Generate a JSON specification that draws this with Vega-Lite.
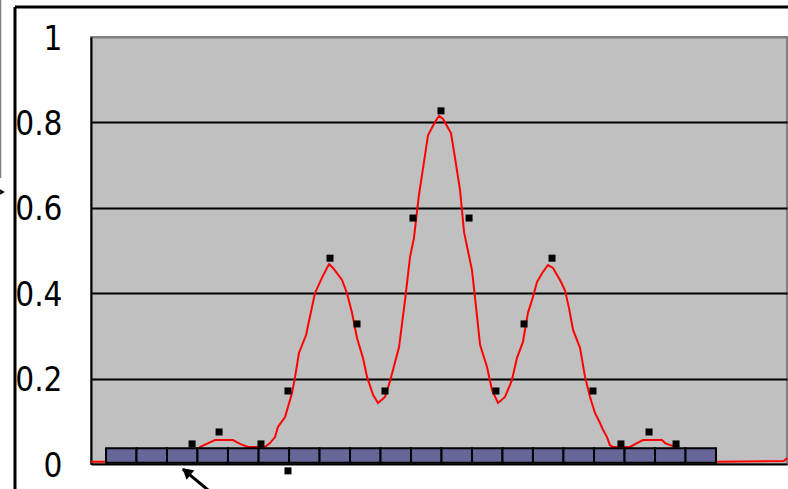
{
  "$schema": "https://vega.github.io/schema/vega-lite/v6.json",
  "width": 696,
  "height": 427,
  "autosize": {"type": "none"},
  "padding": {"left": 91, "top": 37, "right": 1, "bottom": 25},
  "background": "white",
  "config": {
    "view": {"fill": "#C0C0C0", "stroke": "#808080", "strokeWidth": 2}
  },
  "datasets": {
    "curve": [
      {"u": 0, "v": 0.005}, {"u": 4.24, "v": 0.005}, {"u": 7.47, "v": 0.007}, {"u": 7.83, "v": 0.04},
      {"u": 8.91, "v": 0.056}, {"u": 10.2, "v": 0.056}, {"u": 10.7, "v": 0.047}, {"u": 11.28, "v": 0.04},
      {"u": 12.5, "v": 0.04}, {"u": 12.86, "v": 0.049}, {"u": 13.22, "v": 0.063}, {"u": 13.43, "v": 0.087},
      {"u": 13.94, "v": 0.11}, {"u": 14.44, "v": 0.166}, {"u": 14.66, "v": 0.204}, {"u": 14.94, "v": 0.26},
      {"u": 15.45, "v": 0.302}, {"u": 15.8, "v": 0.356}, {"u": 16.09, "v": 0.4}, {"u": 16.59, "v": 0.436},
      {"u": 16.95, "v": 0.459}, {"u": 17.1, "v": 0.468}, {"u": 17.39, "v": 0.459}, {"u": 18.03, "v": 0.431},
      {"u": 18.39, "v": 0.4}, {"u": 18.75, "v": 0.354}, {"u": 19.11, "v": 0.295}, {"u": 19.54, "v": 0.248},
      {"u": 19.83, "v": 0.204}, {"u": 20.26, "v": 0.162}, {"u": 20.62, "v": 0.143}, {"u": 21.12, "v": 0.157},
      {"u": 21.48, "v": 0.194}, {"u": 22.13, "v": 0.274}, {"u": 22.56, "v": 0.384}, {"u": 22.92, "v": 0.485},
      {"u": 23.2, "v": 0.529}, {"u": 23.56, "v": 0.63}, {"u": 23.92, "v": 0.707}, {"u": 24.21, "v": 0.77},
      {"u": 24.71, "v": 0.801}, {"u": 25.0, "v": 0.815}, {"u": 25.29, "v": 0.808}, {"u": 25.86, "v": 0.775},
      {"u": 26.15, "v": 0.717}, {"u": 26.51, "v": 0.642}, {"u": 26.8, "v": 0.543}, {"u": 27.37, "v": 0.454},
      {"u": 27.66, "v": 0.368}, {"u": 27.95, "v": 0.279}, {"u": 28.45, "v": 0.227}, {"u": 28.81, "v": 0.173},
      {"u": 29.24, "v": 0.143}, {"u": 29.74, "v": 0.157}, {"u": 30.1, "v": 0.185}, {"u": 30.24, "v": 0.197},
      {"u": 30.6, "v": 0.248}, {"u": 31.03, "v": 0.286}, {"u": 31.39, "v": 0.354}, {"u": 31.75, "v": 0.391},
      {"u": 32.04, "v": 0.426}, {"u": 32.47, "v": 0.45}, {"u": 32.83, "v": 0.466}, {"u": 33.19, "v": 0.459},
      {"u": 33.69, "v": 0.431}, {"u": 34.05, "v": 0.407}, {"u": 34.34, "v": 0.365}, {"u": 34.63, "v": 0.314},
      {"u": 35.13, "v": 0.272}, {"u": 35.49, "v": 0.204}, {"u": 35.85, "v": 0.157}, {"u": 36.21, "v": 0.119},
      {"u": 36.57, "v": 0.096}, {"u": 36.78, "v": 0.08}, {"u": 37.07, "v": 0.063}, {"u": 37.28, "v": 0.044},
      {"u": 37.5, "v": 0.04}, {"u": 38.72, "v": 0.04}, {"u": 39.22, "v": 0.049}, {"u": 39.66, "v": 0.056},
      {"u": 41.02, "v": 0.056}, {"u": 41.24, "v": 0.049}, {"u": 41.81, "v": 0.042}, {"u": 42.31, "v": 0.035},
      {"u": 43.03, "v": 0.007}, {"u": 44.9, "v": 0.005}, {"u": 49.78, "v": 0.007}, {"u": 50.0, "v": 0.014}
    ],
    "pts": [
      {"u": 7.26, "v": 0.047}, {"u": 9.2, "v": 0.075}, {"u": 12.21, "v": 0.047}, {"u": 14.15, "v": 0.171},
      {"u": 14.15, "v": -0.016}, {"u": 17.17, "v": 0.482}, {"u": 19.11, "v": 0.328}, {"u": 21.12, "v": 0.171},
      {"u": 23.13, "v": 0.576}, {"u": 25.14, "v": 0.827}, {"u": 27.16, "v": 0.576}, {"u": 29.09, "v": 0.171},
      {"u": 31.11, "v": 0.328}, {"u": 33.12, "v": 0.482}, {"u": 36.06, "v": 0.171}, {"u": 38.07, "v": 0.047},
      {"u": 40.09, "v": 0.075}, {"u": 42.03, "v": 0.047}
    ],
    "boxes": [
      {"u": 1.08, "u2": 3.27, "v": 0.003, "v2": 0.037}, {"u": 3.27, "u2": 5.46, "v": 0.003, "v2": 0.037},
      {"u": 5.46, "u2": 7.65, "v": 0.003, "v2": 0.037}, {"u": 7.65, "u2": 9.84, "v": 0.003, "v2": 0.037},
      {"u": 9.84, "u2": 12.04, "v": 0.003, "v2": 0.037}, {"u": 12.04, "u2": 14.23, "v": 0.003, "v2": 0.037},
      {"u": 14.23, "u2": 16.42, "v": 0.003, "v2": 0.037}, {"u": 16.42, "u2": 18.61, "v": 0.003, "v2": 0.037},
      {"u": 18.61, "u2": 20.8, "v": 0.003, "v2": 0.037}, {"u": 20.8, "u2": 22.99, "v": 0.003, "v2": 0.037},
      {"u": 22.99, "u2": 25.18, "v": 0.003, "v2": 0.037}, {"u": 25.18, "u2": 27.37, "v": 0.003, "v2": 0.037},
      {"u": 27.37, "u2": 29.56, "v": 0.003, "v2": 0.037}, {"u": 29.56, "u2": 31.75, "v": 0.003, "v2": 0.037},
      {"u": 31.75, "u2": 33.94, "v": 0.003, "v2": 0.037}, {"u": 33.94, "u2": 36.14, "v": 0.003, "v2": 0.037},
      {"u": 36.14, "u2": 38.33, "v": 0.003, "v2": 0.037}, {"u": 38.33, "u2": 40.52, "v": 0.003, "v2": 0.037},
      {"u": 40.52, "u2": 42.71, "v": 0.003, "v2": 0.037}, {"u": 42.71, "u2": 44.9, "v": 0.003, "v2": 0.037}
    ],
    "frame": [
      {"u": -5.46, "u2": -5.46, "v": 1.07, "v2": -0.07},
      {"u": -5.46, "u2": 50.1, "v": 1.07, "v2": 1.07}
    ],
    "sideline": [{"u": -6.5, "u2": -6.5, "v": 1.09, "v2": 0.67}],
    "arrowline": [{"u": 6.6, "u2": 8.75, "v": -0.012, "v2": -0.07}],
    "arrowhead": [{"u": 6.85, "v": -0.018}],
    "lefthead": [{"u": -6.36, "v": 0.637}]
  },
  "encoding": {
    "x": {"field": "u", "type": "quantitative", "scale": {"domain": [0, 50], "nice": false, "zero": false}, "axis": null},
    "y": {
      "field": "v", "type": "quantitative",
      "scale": {"domain": [0, 1], "nice": false, "zero": false},
      "axis": {
        "title": null, "values": [0, 0.2, 0.4, 0.6, 0.8, 1], "format": "~g",
        "domain": true, "domainColor": "black", "domainWidth": 2,
        "grid": true, "gridWidth": 2,
        "gridColor": {"condition": {"test": "datum.value === 1", "value": "#808080"}, "value": "black"},
        "gridOpacity": 1,
        "ticks": false,
        "labelFont": "Liberation Sans Narrow, DejaVu Sans Condensed, Liberation Sans",
        "labelFontSize": 33, "labelColor": "black",
        "labelPadding": 29, "labelOffset": 2
      }
    }
  },
  "layer": [
    {"data": {"name": "curve"}, "mark": {"type": "line", "color": "#FF0000", "strokeWidth": 2}},
    {"data": {"name": "boxes"}, "mark": {"type": "rect", "fill": "#666699", "stroke": "black", "strokeWidth": 2},
      "encoding": {"x2": {"field": "u2"}, "y2": {"field": "v2"}}},
    {"data": {"name": "pts"}, "mark": {"type": "point", "shape": "square", "filled": true, "color": "black", "opacity": 1, "size": 49}},
    {"data": {"name": "frame"}, "mark": {"type": "rule", "color": "black", "strokeWidth": 3},
      "encoding": {"x2": {"field": "u2"}, "y2": {"field": "v2"}}},
    {"data": {"name": "sideline"}, "mark": {"type": "rule", "color": "#808080", "strokeWidth": 1.5},
      "encoding": {"x2": {"field": "u2"}, "y2": {"field": "v2"}}},
    {"data": {"name": "arrowline"}, "mark": {"type": "rule", "color": "black", "strokeWidth": 3},
      "encoding": {"x2": {"field": "u2"}, "y2": {"field": "v2"}}},
    {"data": {"name": "arrowhead"}, "mark": {"type": "point", "shape": "triangle-up", "filled": true, "color": "black", "opacity": 1, "size": 150, "angle": 309}},
    {"data": {"name": "lefthead"}, "mark": {"type": "point", "shape": "triangle-right", "filled": true, "color": "black", "opacity": 1, "size": 30}}
  ]
}
